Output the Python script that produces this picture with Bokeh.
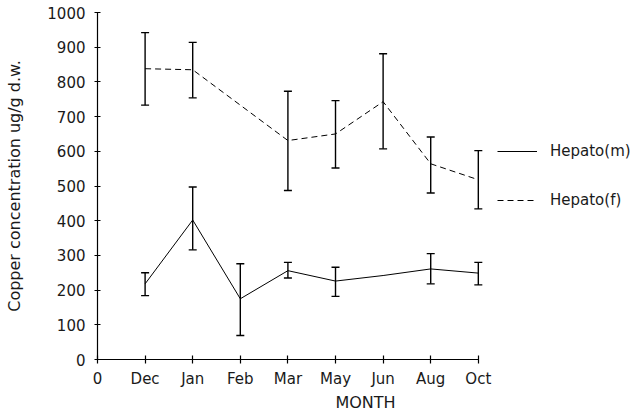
from bokeh.plotting import figure
from bokeh.models import (Range1d, FixedTicker, ColumnDataSource, Whisker, TeeHead,
                          Legend, LegendItem)
from bokeh.embed import file_html
from bokeh.resources import INLINE

# ---- data ----
tick_labels = ["0", "Dec", "Jan", "Feb", "Mar", "May", "Jun", "Aug", "Oct"]

m_months = ["Dec", "Jan", "Feb", "Mar", "May", "Jun", "Aug", "Oct"]
m_mean = [218, 402, 175, 256, 226, 242, 261, 249]
m_upper = [250, 497, 276, 280, 266, None, 305, 280]
m_lower = [184, 316, 69, 235, 182, None, 218, 215]

f_months = ["Dec", "Jan", "Mar", "May", "Jun", "Aug", "Oct"]
f_mean = [838, 835, 631, 650, 743, 564, 518]
f_upper = [942, 914, 773, 746, 881, 641, 602]
f_lower = [733, 754, 487, 552, 607, 480, 434]

y_ticks = list(range(0, 1001, 100))

FONT = "DejaVu Sans"
TXT = "#1a1a1a"

def xpos(names):
    return [tick_labels.index(n) for n in names]

p = figure(width=633, height=414, output_backend="svg", toolbar_location=None,
           x_range=Range1d(0, 11.26), y_range=Range1d(0, 1000),
           min_border_left=97, min_border_top=12, min_border_right=0,
           min_border_bottom=55)
p.outline_line_color = None
p.grid.visible = False
p.background_fill_color = "white"
p.border_fill_color = "white"

# axes
xa = p.xaxis[0]
xa.ticker = FixedTicker(ticks=list(range(len(tick_labels))))
xa.major_label_overrides = {i: t for i, t in enumerate(tick_labels)}
xa.bounds = (0, len(tick_labels) - 1)
xa.major_tick_in = 4
xa.major_tick_out = 4
xa.minor_tick_line_color = None
xa.major_label_standoff = 6
xa.axis_label = "MONTH"
xa.axis_label_standoff = 2

ya = p.yaxis[0]
ya.ticker = FixedTicker(ticks=y_ticks)
ya.bounds = (0, 1000)
ya.major_tick_in = 3
ya.major_tick_out = 3
ya.minor_tick_line_color = None
ya.major_label_standoff = 9
ya.axis_label = "Copper concentration ug/g d.w."
ya.axis_label_standoff = 20

for ax in (xa, ya):
    ax.axis_line_color = "black"
    ax.axis_line_width = 1.2
    ax.major_tick_line_color = "black"
    ax.major_tick_line_width = 1.2
    ax.major_label_text_font = FONT
    ax.major_label_text_font_size = "15px"
    ax.major_label_text_color = TXT
    ax.axis_label_text_font = FONT
    ax.axis_label_text_font_size = "16px"
    ax.axis_label_text_font_style = "normal"
    ax.axis_label_text_color = TXT

# series lines
mx = xpos(m_months)
fx = xpos(f_months)
r_m = p.line(mx, m_mean, line_color="black", line_width=1)
r_f = p.line(fx, f_mean, line_color="black", line_width=1, line_dash="6 4")

# error bars
def whisk(xs, ups, los):
    keep = [i for i in range(len(xs)) if ups[i] is not None]
    src = ColumnDataSource(dict(x=[xs[i] for i in keep],
                                up=[ups[i] for i in keep],
                                lo=[los[i] for i in keep]))
    w = Whisker(source=src, base="x", upper="up", lower="lo",
                line_color="black", line_width=1.4,
                upper_head=TeeHead(size=8, line_color="black", line_width=1.4),
                lower_head=TeeHead(size=8, line_color="black", line_width=1.4))
    p.add_layout(w)

whisk(mx, m_upper, m_lower)
whisk(fx, f_upper, f_lower)

legend = Legend(items=[LegendItem(label="Hepato(m)", renderers=[r_m]),
                       LegendItem(label="Hepato(f)", renderers=[r_f])],
                location=(400, 149), orientation="vertical")
legend.padding = 0
legend.margin = 0
legend.spacing = 29
legend.glyph_width = 40
legend.glyph_height = 20
legend.label_height = 20
legend.label_standoff = 13
legend.border_line_color = None
legend.background_fill_alpha = 0
legend.label_text_font = FONT
legend.label_text_font_size = "15px"
legend.label_text_color = TXT
p.add_layout(legend)

open("out.html", "w").write(file_html(p, INLINE))
